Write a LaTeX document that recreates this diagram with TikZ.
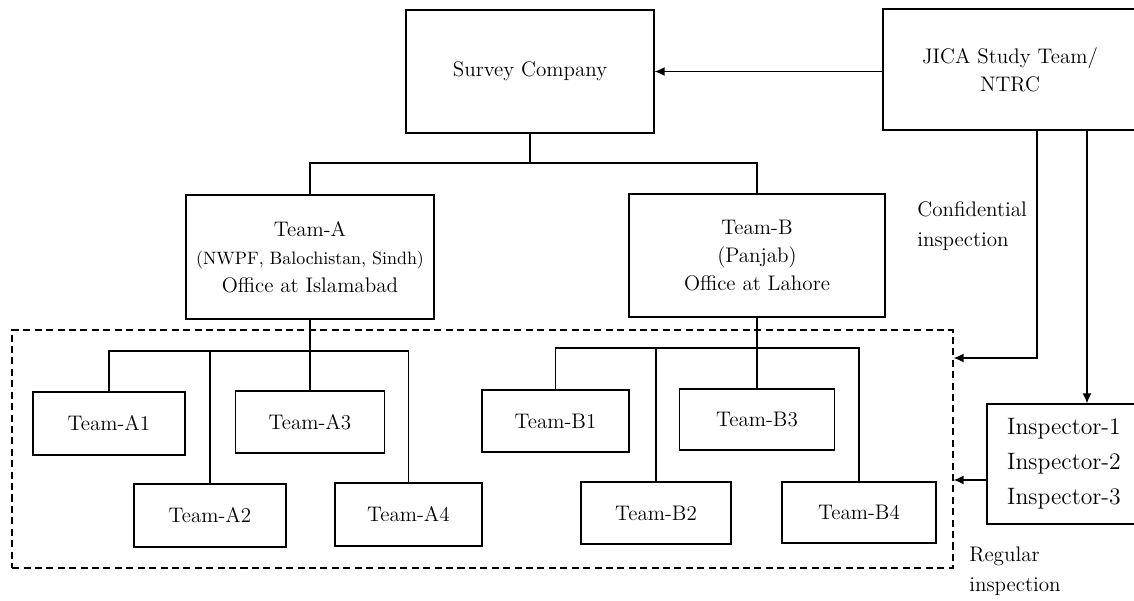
\documentclass[tikz,border=0pt]{standalone}
\usepackage{tikz}
\usetikzlibrary{arrows.meta,positioning,calc}

\tikzset{
  box/.style={draw, line width=0.8pt, inner sep=2pt, align=center,
    font=\fontsize{12}{16}\selectfont},
  arr/.style={-{Latex[length=2mm,width=1.8mm]}},
  link/.style={line width=0.8pt}
}

\begin{document}
\begin{tikzpicture}[x=0.02cm, y=-0.02cm]
  \useasboundingbox (0,0) rectangle (1134,600);
  % top level
  \node[box, minimum width=4.96cm, minimum height=2.46cm] (survey) at (530,71.5) {Survey Company};
  \node[box, minimum width=5.08cm, minimum height=2.42cm] (jica) at (1010,69.5) {JICA Study Team/\\NTRC};
  % regional teams
  \node[box, minimum width=4.96cm, minimum height=2.48cm] (teamA) at (310,257)
    {Team-A\\{\fontsize{10.2}{16}\selectfont (NWPF, Balochistan, Sindh)}\\Office at Islamabad};
  \node[box, minimum width=5.12cm, minimum height=2.46cm] (teamB) at (757,255.5)
    {Team-B\\(Panjab)\\Office at Lahore};
  % field teams
  \node[draw, dash pattern=on 4pt off 2.5pt, line width=0.8pt, minimum width=18.82cm, minimum height=4.76cm] (grp) at (482.5,449) {};
  \node[box, minimum width=3.04cm, minimum height=1.26cm] (A1) at (109,423.5) {Team-A1};
  \node[box, minimum width=3.04cm, minimum height=1.26cm] (A2) at (210,515.5) {Team-A2};
  \node[box, minimum width=2.98cm, minimum height=1.24cm] (A3) at (310,422) {Team-A3};
  \node[box, minimum width=2.94cm, minimum height=1.26cm] (A4) at (408.5,514.5) {Team-A4};
  \node[box, minimum width=2.94cm, minimum height=1.24cm] (B1) at (555.5,421) {Team-B1};
  \node[box, minimum width=3.00cm, minimum height=1.24cm] (B2) at (656,513) {Team-B2};
  \node[box, minimum width=3.10cm, minimum height=1.22cm] (B3) at (757,419.5) {Team-B3};
  \node[box, minimum width=3.08cm, minimum height=1.22cm] (B4) at (859,512.5) {Team-B4};
  % inspectors
  \node[box, minimum width=3.08cm, minimum height=2.4cm, font=\fontsize{13.5}{20}\selectfont] (insp) at (1064,464)
    {Inspector-1\\Inspector-2\\Inspector-3};
  \node[anchor=north west, align=left, inner sep=0pt, font=\fontsize{12}{17}\selectfont] (conf) at (917,201)
    {Confidential\\inspection};
  \node[anchor=north west, align=left, inner sep=0pt, font=\fontsize{12}{17}\selectfont] (reg) at (969,547)
    {Regular\\inspection};

  % buses
  \coordinate (topbus) at (530,163);
  \coordinate (abus) at (0,351);
  \coordinate (bbus) at (0,348);
  \coordinate (cx) at (1037,358);
  \coordinate (rx) at (1087,0);
  \coordinate (ry) at (0,480);

  \draw[link, arr] (jica.west |- survey.east) -- (survey.east);
  \draw[link] (survey.south) -- (topbus);
  \draw[link] (teamA.north) |- (topbus) -| (teamB.north);

  \draw[link] (teamA.south) -- (A3.north);
  \draw[link] (A1.north) |- (A4.north |- abus) -- (A4.north);
  \draw[link] (A2.north) -- (A2.north |- abus);

  \draw[link] (teamB.south) -- (B3.north);
  \draw[link] (B1.north) |- (B4.north |- bbus) -- (B4.north);
  \draw[link] (B2.north) -- (B2.north |- bbus);

  \draw[link, arr] (cx |- jica.south) -- (cx) -- (cx -| grp.east);
  \draw[link, arr] (rx |- jica.south) -- (rx |- insp.north);
  \draw[link, arr] (insp.west |- ry) -- (grp.east |- ry);
\end{tikzpicture}
\end{document}
